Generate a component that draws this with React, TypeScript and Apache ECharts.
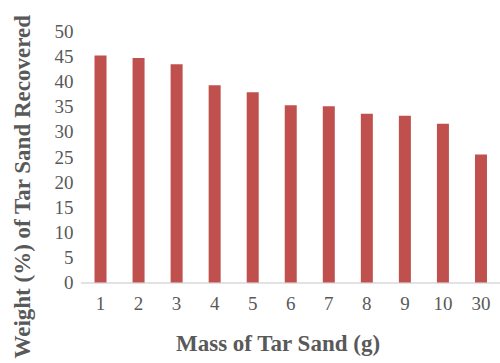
import React, { useEffect, useRef } from "react";
import * as echarts from "echarts";

const categories = ["1", "2", "3", "4", "5", "6", "7", "8", "9", "10", "30"];
const weightRecovered = [45.2, 44.7, 43.5, 39.3, 37.9, 35.3, 35.1, 33.6, 33.2, 31.6, 25.5];
const yTicks = [0, 5, 10, 15, 20, 25, 30, 35, 40, 45, 50];

const xTitle = "Mass of Tar Sand (g)";
const yTitle = "Weight (%) of Tar Sand Recovered";

export default function App() {
  const ref = useRef<HTMLDivElement>(null);
  useEffect(() => {
    if (!ref.current) return;
    const chart = echarts.init(ref.current, null, { renderer: "svg" });
    const font = "'Liberation Serif', 'Times New Roman', serif";
    chart.setOption({
      animation: false,
      backgroundColor: "#ffffff",
      grid: { left: 81.5, right: -4.5, top: 31.5, bottom: 80.5, containLabel: false },
      xAxis: {
        type: "category",
        data: categories,
        axisLine: { show: true, lineStyle: { color: "#d9d9d9", width: 1.5 } },
        axisTick: { show: false },
        axisLabel: { color: "#595959", fontFamily: font, fontSize: 19, margin: 11 },
        splitLine: { show: false },
      },
      yAxis: {
        type: "value",
        min: yTicks[0],
        max: yTicks[yTicks.length - 1],
        interval: 5,
        axisLine: { show: false },
        axisTick: { show: false },
        splitLine: { show: false },
        axisLabel: { color: "#595959", fontFamily: font, fontSize: 19, margin: 8 },
      },
      series: [
        {
          type: "bar",
          data: weightRecovered,
          barWidth: 12,
          itemStyle: { color: "#c0504d" },
        },
      ],
      graphic: [
        {
          type: "text",
          x: 278,
          y: 343,
          style: {
            text: xTitle,
            fill: "#595959",
            font: `bold 23px ${font}`,
            textAlign: "center",
            textVerticalAlign: "middle",
          },
        },
        {
          type: "text",
          x: 22,
          y: 15,
          rotation: Math.PI / 2,
          style: {
            text: yTitle,
            fill: "#595959",
            font: `bold 23px ${font}`,
            textAlign: "right",
            textVerticalAlign: "middle",
          },
        },
      ],
    });
    return () => chart.dispose();
  }, []);
  return (
    <div
      ref={ref}
      style={{ position: "fixed", left: 0, top: 0, width: 500, height: 363 }}
    />
  );
}
